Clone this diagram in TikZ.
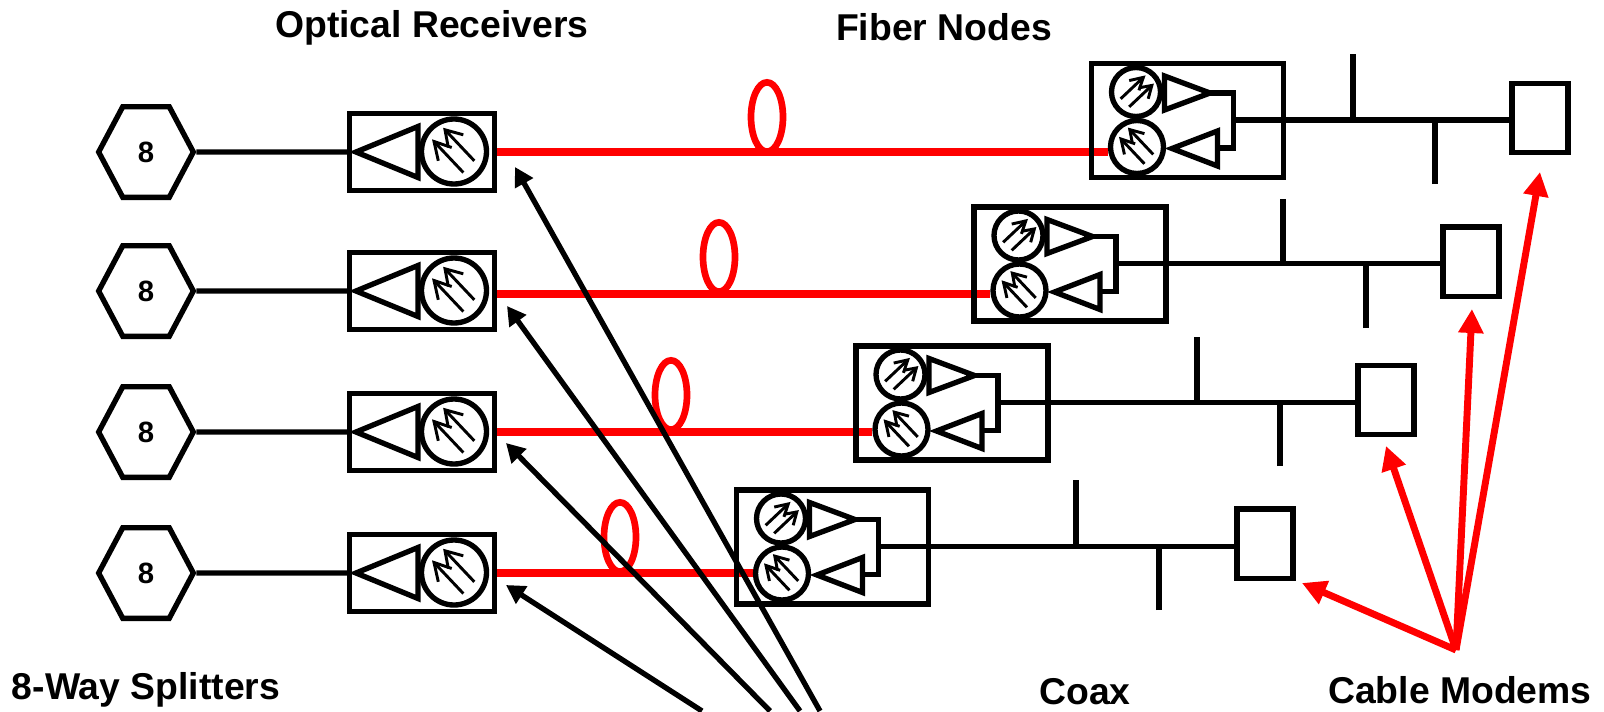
\documentclass[tikz,border=0pt]{standalone}
\usepackage{fontspec}
\setmainfont{Liberation Sans}
\usetikzlibrary{arrows.meta,positioning,shapes.geometric,shapes.symbols,backgrounds}
\definecolor{FiberRed}{HTML}{FF0000}
\tikzset{
  heavy/.style={line width=4pt, draw=black},
  thinline/.style={line width=2.2pt, draw=black},
  splitter/.style={signal, signal to=east and west, signal pointer angle=124, heavy, minimum width=71pt, minimum height=68pt, inner sep=0pt, font=\bfseries\fontsize{22}{22}\selectfont},
  recvbox/.style={rectangle, heavy, minimum width=108.75pt, minimum height=58pt, inner sep=0pt},
  nodebox/.style={rectangle, heavy, minimum width=144pt, minimum height=85.5pt, inner sep=0pt},
  modem/.style={rectangle, heavy, minimum width=42pt, minimum height=52pt, inner sep=0pt},
  photo/.style={circle, heavy, inner sep=0pt, minimum size=#1},
  wire/.style={line width=4pt, draw=black},
  fiber/.style={line width=6pt, draw=FiberRed},
  loopring/.style={ellipse, line width=5pt, draw=FiberRed, minimum width=24pt, minimum height=52pt, inner sep=0pt},
  pointer/.style={-{Triangle[length=14pt,width=15pt]}, line width=4pt, draw=black},
  redpointer/.style={-{Triangle[length=18pt,width=18pt]}, line width=5.2pt, draw=FiberRed, color=FiberRed},
  title/.style={font=\bfseries\fontsize{28}{28}\selectfont, inner sep=0pt},
  detector/.pic={
    \draw[thinline] (9.3,21) -- (-20,-10);
    \draw[thinline] (-15.7,9.3) -- (-20,-10) -- (-2.3,-4);
    \draw[thinline] (20.3,9.3) -- (-9,-21.7);
    \draw[thinline] (-5.7,-4) -- (-9,-21.7) -- (9.3,-16.7);
  },
  receiver/.pic={
    \node[recvbox] (-box) at (0,0) {};
    \node[photo=48.75pt] (-pd) at (32,-0.5) {};
    \pic at (32,-0.5) {detector};
    \draw[heavy] (-4,-25.5) -- (-66,0) -- (-4,25.5) -- cycle;
  },
  fibernode/.pic={
    \node[nodebox] (-box) at (0,0) {};
    \node[photo=36.75pt] (-tx) at (-51.5,-28.5) {};
    \node[photo=39.75pt] (-rx) at (-50.5,26.5) {};
    \pic[scale=.73,rotate=-90] at (-51.5,-28.5) {detector};
    \pic[scale=.8] at (-50.5,26.5) {detector};
    \draw[heavy] (-23,-44.5) -- (22.5,-27.5) -- (-23,-10.5) -- cycle;
    \draw[heavy] (30,10.5) -- (-15.5,28) -- (30,45.5) -- cycle;
    \draw[wire] (22.5,-27.5) -- (46,-27.5) -- (46,27.5) -- (30,27.5);
    \coordinate (-out) at (46,-0.5);
  }
}
\begin{document}
\begin{tikzpicture}[x=.75pt,y=-.75pt]
\useasboundingbox (0,0) rectangle (1604,711);

\node[splitter] (splitA) at (146,152) {8};
\node[splitter] (splitB) at (146,291) {8};
\node[splitter] (splitC) at (146,432) {8};
\node[splitter] (splitD) at (146,573) {8};

\pic (recvA) at (422,152) {receiver};
\pic (recvB) at (422,291) {receiver};
\pic (recvC) at (422,432) {receiver};
\pic (recvD) at (422,573) {receiver};

\pic (fiberA) at (1187.5,120.5) {fibernode};
\pic (fiberB) at (1070,264) {fibernode};
\pic (fiberC) at (952,403) {fibernode};
\pic (fiberD) at (832.5,547) {fibernode};

\node[modem] (modemA) at (1540,118) {};
\node[modem] (modemB) at (1471,261.5) {};
\node[modem] (modemC) at (1386,400) {};
\node[modem] (modemD) at (1265,543.5) {};

\node[loopring] (loopA) at (767,117) {};
\node[loopring] (loopB) at (719,257) {};
\node[loopring] (loopC) at (671,395) {};
\node[loopring] (loopD) at (620,537) {};

\draw[wire] (splitA) -- (recvA-box);
\draw[wire] (splitB) -- (recvB-box);
\draw[wire] (splitC) -- (recvC-box);
\draw[wire] (splitD) -- (recvD-box);

\begin{pgfonlayer}{background}
\draw[fiber] (recvA-box.east) -- (recvA-box.east -| fiberA-rx.west);
\draw[fiber] ([yshift=-2pt]recvB-box.east) -- ([yshift=-2pt]recvB-box.east -| fiberB-rx.west);
\draw[fiber] (recvC-box.east) -- (recvC-box.east -| fiberC-rx.west);
\draw[fiber] (recvD-box.east) -- (recvD-box.east -| fiberD-rx.west);
\end{pgfonlayer}

\draw[wire] (fiberA-out) -- (fiberA-out -| modemA.west);
\draw[wire] (fiberB-out) -- (fiberB-out -| modemB.west);
\draw[wire] (fiberC-out) -- (fiberC-out -| modemC.west);
\draw[wire] (fiberD-out) -- (fiberD-out -| modemD.west);

\coordinate (tapAup) at (1353,54);
\coordinate (tapAdn) at (1435,184);
\coordinate (tapBup) at (1283,199);
\coordinate (tapBdn) at (1366,328);
\coordinate (tapCup) at (1197,337);
\coordinate (tapCdn) at (1280,466);
\coordinate (tapDup) at (1076,480);
\coordinate (tapDdn) at (1159,610);
\draw[wire] (tapAup) -- (tapAup |- fiberA-out);
\draw[wire] (tapAdn) -- (tapAdn |- fiberA-out);
\draw[wire] (tapBup) -- (tapBup |- fiberB-out);
\draw[wire] (tapBdn) -- (tapBdn |- fiberB-out);
\draw[wire] (tapCup) -- (tapCup |- fiberC-out);
\draw[wire] (tapCdn) -- (tapCdn |- fiberC-out);
\draw[wire] (tapDup) -- (tapDup |- fiberD-out);
\draw[wire] (tapDdn) -- (tapDdn |- fiberD-out);

\coordinate (tipA) at (515,167);
\coordinate (tipB) at (507,306);
\coordinate (tipC) at (506,443);
\coordinate (tipD) at (506,585);
\coordinate (tailA) at (820,711);
\coordinate (tailB) at (800,711);
\coordinate (tailC) at (770,711);
\coordinate (tailD) at (702,711);
\draw[pointer] (tailA) -- (tipA);
\draw[pointer] (tailB) -- (tipB);
\draw[pointer] (tailC) -- (tipC);
\draw[pointer] (tailD) -- (tipD);

\coordinate (hub) at (1456,650);
\coordinate (hitA) at (1540,172);
\coordinate (hitB) at (1472,309);
\coordinate (hitC) at (1386,446);
\coordinate (hitD) at (1302,583);
\draw[redpointer] (hub) -- (hitA);
\draw[redpointer] (hub) -- (hitB);
\draw[redpointer] (hub) -- (hitC);
\draw[redpointer] (hub) -- (hitD);

\node[title] (lblRecv) at (432,28) {Optical Receivers};
\node[title] (lblFiber) at (944,27) {Fiber Nodes};
\node[title] (lblSplit) at (146,690) {8-Way Splitters};
\node[title] (lblCoax) at (1085,692) {Coax};
\node[title] (lblModem) at (1460,690) {Cable Modems};
\end{tikzpicture}
\end{document}
